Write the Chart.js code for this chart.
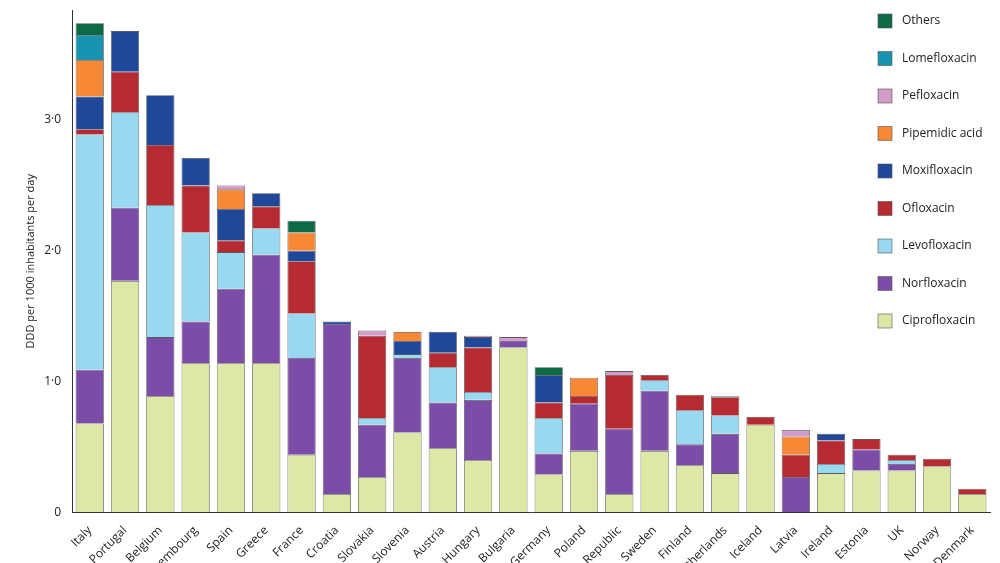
<!DOCTYPE html>
<html><head><meta charset="utf-8">
<script src="https://cdn.jsdelivr.net/npm/chart.js@4"></script>
<style>html,body{margin:0;padding:0;background:#fff;overflow:hidden}#wrap{width:1000px;height:596px}</style>
</head><body><div id="wrap"><canvas id="c"></canvas></div>
<script>
const countries=["Italy","Portugal","Belgium","Luxembourg","Spain","Greece","France","Croatia","Slovakia","Slovenia","Austria","Hungary","Bulgaria","Germany","Poland","Czech Republic","Sweden","Finland","Netherlands","Iceland","Latvia","Ireland","Estonia","UK","Norway","Denmark"];
const ciprofloxacin=[0.68,1.77,0.89,1.14,1.14,1.14,0.44,0.14,0.27,0.61,0.49,0.40,1.26,0.29,0.47,0.14,0.47,0.36,0.30,0.67,0,0.30,0.32,0.32,0.35,0.14];
const norfloxacin=[0.41,0.56,0.45,0.32,0.57,0.83,0.74,1.30,0.40,0.57,0.35,0.46,0.05,0.16,0.36,0.50,0.46,0.16,0.30,0,0.27,0,0.16,0.05,0,0];
const levofloxacin=[1.80,0.73,1.01,0.68,0.28,0.20,0.34,0,0.05,0.03,0.27,0.06,0,0.27,0,0,0.08,0.26,0.14,0,0,0.07,0,0.03,0,0];
const ofloxacin=[0.04,0.31,0.46,0.36,0.09,0.17,0.40,0,0.63,0,0.11,0.34,0,0.12,0.06,0.41,0.04,0.12,0.14,0.06,0.17,0.18,0.08,0.04,0.06,0.04];
const moxifloxacin=[0.25,0.31,0.38,0.21,0.24,0.10,0.08,0.02,0,0.10,0.16,0.08,0,0.21,0,0,0,0,0,0,0,0.05,0,0,0,0];
const pipemidicAcid=[0.28,0,0,0,0.15,0,0.14,0,0,0.07,0,0,0,0,0.14,0,0,0,0,0,0.14,0,0,0,0,0];
const pefloxacin=[0,0,0,0,0.03,0,0,0,0.04,0,0,0.01,0.03,0,0,0.03,0,0,0.01,0,0.05,0,0,0,0,0];
const lomefloxacin=[0.19,0,0,0,0,0,0,0,0,0,0,0,0,0,0,0,0,0,0,0,0,0,0,0,0,0];
const others=[0.09,0,0,0,0,0,0.09,0,0,0,0,0,0,0.06,0,0,0,0,0,0,0,0,0,0,0,0];
const yTicks=[0,1,2,3];
const series=[
 ["Ciprofloxacin",ciprofloxacin,"#dde7a6"],
 ["Norfloxacin",norfloxacin,"#7c4ca9"],
 ["Levofloxacin",levofloxacin,"#98d8f0"],
 ["Ofloxacin",ofloxacin,"#b62a31"],
 ["Moxifloxacin",moxifloxacin,"#20489a"],
 ["Pipemidic acid",pipemidicAcid,"#f68836"],
 ["Pefloxacin",pefloxacin,"#d29ccb"],
 ["Lomefloxacin",lomefloxacin,"#1893b0"],
 ["Others",others,"#0d6a45"]];
const legendPlugin={id:'lg',afterDraw(ch){const c=ch.ctx;c.save();c.font='12px "Open Sans", sans-serif';c.textBaseline='middle';
 const ds=ch.data.datasets;for(let i=ds.length-1;i>=0;i--){const k=ds.length-1-i;const y=21+k*37.5;
 c.fillStyle=ds[i].backgroundColor;c.fillRect(878,y-7,14,14);c.strokeStyle='#555';c.lineWidth=0.6;c.strokeRect(878,y-7,14,14);
 c.fillStyle='#222';c.fillText(ds[i].label,902,y);}c.restore();}};
new Chart(document.getElementById('c'),{type:'bar',
 data:{labels:countries,datasets:series.map(s=>({label:s[0],data:s[1],backgroundColor:s[2],borderColor:'#5a5a5a',borderWidth:0.8,barPercentage:0.8,categoryPercentage:1}))},
 options:{responsive:true,maintainAspectRatio:false,animation:false,
  layout:{padding:{left:20,right:10,top:0,bottom:0}},
  plugins:{legend:{display:false},tooltip:{enabled:false}},
  scales:{x:{stacked:true,grid:{display:false,drawTicks:true},border:{color:'#333'},
     ticks:{color:'#222',font:{size:12,family:'"Open Sans", sans-serif'},maxRotation:45,minRotation:45,autoSkip:false}},
   y:{stacked:true,min:0,max:3.84,afterBuildTicks(a){a.ticks=yTicks.map(v=>({value:v}));},
     grid:{display:false},border:{color:'#333'},
     ticks:{color:'#222',font:{size:12,family:'"Open Sans", sans-serif'},callback:v=>v===0?'0':v.toFixed(1).replace('.','·')},
     title:{display:true,text:'DDD per 1000 inhabitants per day',color:'#222',font:{size:11,family:'"Open Sans", sans-serif'}}}}},
 plugins:[legendPlugin]});
</script></body></html>
